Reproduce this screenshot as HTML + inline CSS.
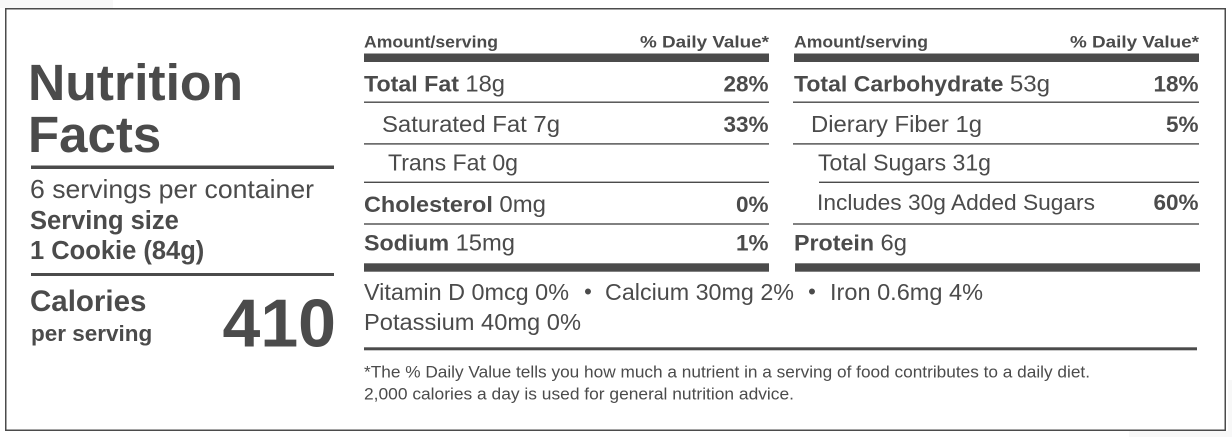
<!DOCTYPE html>
<html>
<head>
<meta charset="utf-8">
<style>
  html, body { margin: 0; padding: 0; background: #ffffff; }
  body { width: 1232px; height: 437px; overflow: hidden; }
  svg { display: block; }
  text { font-family: "Liberation Sans", Arial, sans-serif; fill: #4b4b4b; }
  .b { font-weight: bold; }
</style>
</head>
<body>
<svg width="1232" height="437" viewBox="0 0 1232 437" xmlns="http://www.w3.org/2000/svg">
  <!-- faint background patches -->
  <rect x="0" y="0" width="113" height="8" fill="#f8f8f8"/>
  <rect x="1129" y="431" width="103" height="6" fill="#f8f8f8"/>
  <rect x="1228" y="380" width="4" height="57" fill="#f8f8f8"/>

  <!-- outer border -->
  <rect x="5.75" y="8.75" width="1219.5" height="421.5" fill="none" stroke="#4b4b4b" stroke-width="1.5"/>

  <!-- LEFT: title block -->
  <text x="28" y="100" class="b" font-size="51" textLength="215" lengthAdjust="spacingAndGlyphs">Nutrition</text>
  <text x="28" y="152" class="b" font-size="51">Facts</text>
  <rect x="31" y="165.5" width="303" height="3.5" fill="#4b4b4b"/>

  <text x="30" y="198" font-size="26" textLength="284" lengthAdjust="spacingAndGlyphs">6 servings per container</text>
  <text x="30" y="229" class="b" font-size="25.5">Serving size</text>
  <text x="30" y="259" class="b" font-size="25.5">1 Cookie (84g)</text>
  <rect x="31" y="273" width="303" height="3" fill="#4b4b4b"/>

  <text x="30" y="311" class="b" font-size="29.5">Calories</text>
  <text x="31" y="341" class="b" font-size="22.5">per serving</text>
  <text x="336" y="346.5" class="b" font-size="68" text-anchor="end">410</text>

  <!-- MIDDLE TABLE -->
  <text x="364" y="47.3" class="b" font-size="17" textLength="134" lengthAdjust="spacingAndGlyphs">Amount/serving</text>
  <text x="640" y="47.3" class="b" font-size="17" textLength="129" lengthAdjust="spacingAndGlyphs">% Daily Value*</text>
  <rect x="364" y="53.5" width="405" height="8.5" fill="#4b4b4b"/>

  <text x="364" y="91.5" font-size="22.5" textLength="141" lengthAdjust="spacingAndGlyphs"><tspan class="b">Total Fat</tspan> <tspan font-size="23">18g</tspan></text>
  <text x="768.5" y="91.5" class="b" font-size="22.5" text-anchor="end">28%</text>
  <rect x="364" y="101.5" width="405" height="1.4" fill="#4b4b4b"/>

  <text x="382" y="132" font-size="23" textLength="178" lengthAdjust="spacingAndGlyphs">Saturated Fat 7g</text>
  <text x="768.5" y="132" class="b" font-size="22.5" text-anchor="end">33%</text>
  <rect x="364" y="143.2" width="405" height="1.4" fill="#4b4b4b"/>

  <text x="388" y="170.5" font-size="23" textLength="130" lengthAdjust="spacingAndGlyphs">Trans Fat 0g</text>
  <rect x="364" y="181.6" width="405" height="1.4" fill="#4b4b4b"/>

  <text x="364" y="212" font-size="22.5" textLength="182" lengthAdjust="spacingAndGlyphs"><tspan class="b">Cholesterol</tspan> <tspan font-size="23">0mg</tspan></text>
  <text x="768.5" y="212" class="b" font-size="22.5" text-anchor="end">0%</text>
  <rect x="364" y="223.3" width="405" height="1.4" fill="#4b4b4b"/>

  <text x="364" y="250.7" font-size="22.5" textLength="151" lengthAdjust="spacingAndGlyphs"><tspan class="b">Sodium</tspan> <tspan font-size="23">15mg</tspan></text>
  <text x="768.5" y="250.7" class="b" font-size="22.5" text-anchor="end">1%</text>
  <rect x="364" y="263.3" width="405" height="8.4" fill="#4b4b4b"/>

  <!-- RIGHT TABLE -->
  <text x="794" y="47.3" class="b" font-size="17" textLength="134" lengthAdjust="spacingAndGlyphs">Amount/serving</text>
  <text x="1070" y="47.3" class="b" font-size="17" textLength="129" lengthAdjust="spacingAndGlyphs">% Daily Value*</text>
  <rect x="794" y="53.5" width="405" height="8.5" fill="#4b4b4b"/>

  <text x="794" y="91.5" font-size="22" textLength="256" lengthAdjust="spacingAndGlyphs"><tspan class="b">Total Carbohydrate</tspan> <tspan font-size="23">53g</tspan></text>
  <text x="1198.5" y="91.5" class="b" font-size="22.5" text-anchor="end">18%</text>
  <rect x="793" y="101.5" width="406" height="1.4" fill="#4b4b4b"/>

  <text x="811" y="132" font-size="23" textLength="171" lengthAdjust="spacingAndGlyphs">Dierary Fiber 1g</text>
  <text x="1198.5" y="132" class="b" font-size="22.5" text-anchor="end">5%</text>
  <rect x="793" y="143.2" width="406" height="1.4" fill="#4b4b4b"/>

  <text x="818" y="170.5" font-size="23" textLength="173" lengthAdjust="spacingAndGlyphs">Total Sugars 31g</text>
  <rect x="819" y="181.6" width="380" height="1.4" fill="#4b4b4b"/>

  <text x="817" y="210" font-size="22.5" textLength="278" lengthAdjust="spacingAndGlyphs">Includes 30g Added Sugars</text>
  <text x="1198.5" y="210" class="b" font-size="22.5" text-anchor="end">60%</text>
  <rect x="793" y="223.3" width="406" height="1.4" fill="#4b4b4b"/>

  <text x="794" y="250.7" font-size="22.5" textLength="113" lengthAdjust="spacingAndGlyphs"><tspan class="b">Protein</tspan> <tspan font-size="23">6g</tspan></text>
  <rect x="795" y="263.3" width="405" height="8.4" fill="#4b4b4b"/>

  <!-- Vitamins -->
  <text x="364" y="300" font-size="23" textLength="205" lengthAdjust="spacingAndGlyphs">Vitamin D 0mcg 0%</text>
  <text x="588" y="299" font-size="22" text-anchor="middle">•</text>
  <text x="605" y="300" font-size="23" textLength="189" lengthAdjust="spacingAndGlyphs">Calcium 30mg 2%</text>
  <text x="812" y="299" font-size="22" text-anchor="middle">•</text>
  <text x="830" y="300" font-size="23" textLength="153" lengthAdjust="spacingAndGlyphs">Iron 0.6mg 4%</text>
  <text x="364" y="330" font-size="23" textLength="217" lengthAdjust="spacingAndGlyphs">Potassium 40mg 0%</text>
  <rect x="364" y="347.3" width="833" height="3" fill="#4b4b4b"/>

  <!-- Footnote -->
  <text x="364" y="377.5" font-size="16.5" textLength="726" lengthAdjust="spacingAndGlyphs">*The % Daily Value tells you how much a nutrient in a serving of food contributes to a daily diet.</text>
  <text x="364" y="399.5" font-size="16.5" textLength="430" lengthAdjust="spacingAndGlyphs">2,000 calories a day is used for general nutrition advice.</text>
</svg>
</body>
</html>
